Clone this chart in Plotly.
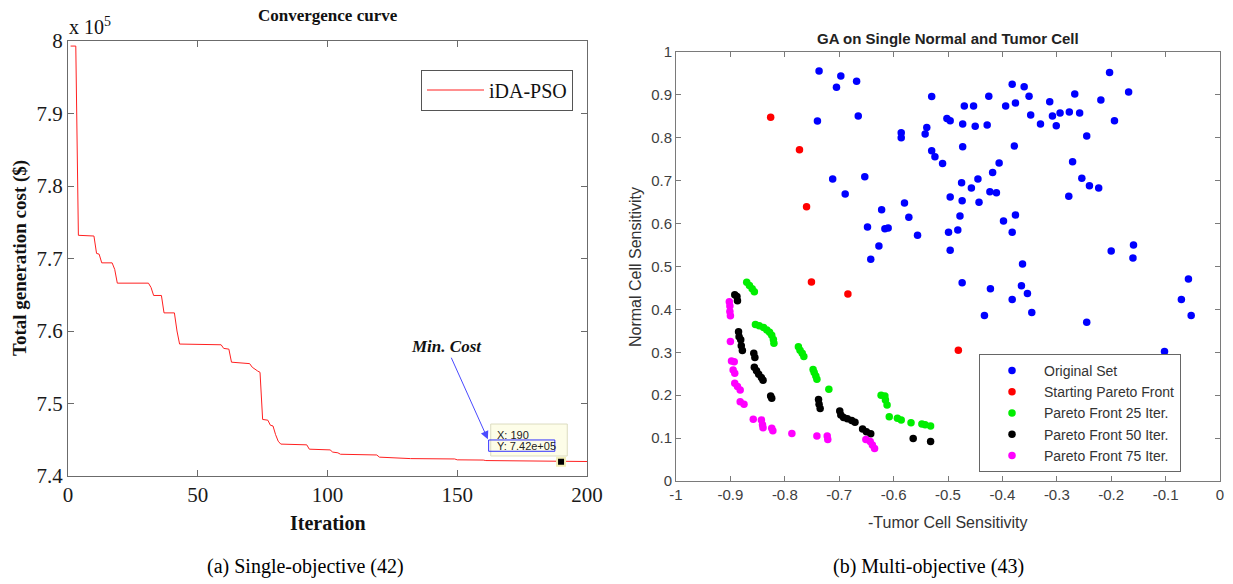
import plotly.graph_objects as go

# ---------------- Data: (a) convergence curve ----------------
iterations = [1, 3, 4, 10, 11, 12, 13, 17, 18, 19, 31, 32, 33, 36, 37, 41, 42, 43,
              59, 60, 62, 63, 70, 71, 73, 74, 75, 77, 78, 79, 80, 81, 82, 92, 93,
              101, 102, 104, 105, 119, 120, 131, 132, 149, 150, 160, 161, 200]
cost_usd = [799300, 799300, 773200, 773100, 770700, 770600, 769400, 769400, 768500,
            766600, 766600, 766000, 764900, 764900, 762500, 762500, 760000, 758200,
            758100, 757600, 757500, 755700, 755500, 755000, 754500, 754300, 747800,
            747700, 747000, 746900, 745700, 744800, 744400, 744300, 743700,
            743600, 743300, 743200, 743000, 742900, 742600, 742500, 742400,
            742350, 742230, 742200, 742130, 742000]
tip_iter = [190]
tip_cost = [741960]
x_ticks_a = [0, 50, 100, 150, 200]
y_ticks_a = [7.4, 7.5, 7.6, 7.7, 7.8, 7.9, 8.0]
y_ticklabels_a = ["7.4", "7.5", "7.6", "7.7", "7.8", "7.9", "8"]

# ---------------- Data: (b) GA scatter ----------------
orig_x = [-0.737, -0.697, -0.705, -0.668, -0.740, -0.665, -0.712, -0.653, -0.689, -0.622,
          -0.648, -0.616, -0.610, -0.627, -0.642, -0.586, -0.586, -0.580, -0.572, -0.556,
          -0.530, -0.470, -0.453, -0.425, -0.382, -0.360, -0.351, -0.394, -0.376, -0.313,
          -0.267, -0.219, -0.203, -0.168, -0.502, -0.496, -0.473, -0.450, -0.428, -0.348,
          -0.330, -0.308, -0.301, -0.294, -0.277, -0.258, -0.194, -0.539, -0.542, -0.473,
          -0.378, -0.245, -0.530, -0.524, -0.510, -0.406, -0.418, -0.445, -0.475, -0.457,
          -0.423, -0.411, -0.271, -0.254, -0.240, -0.223, -0.278, -0.496, -0.474, -0.443,
          -0.478, -0.376, -0.398, -0.482, -0.499, -0.382, -0.496, -0.200, -0.159, -0.160,
          -0.363, -0.474, -0.422, -0.365, -0.354, -0.382, -0.058, -0.071, -0.433, -0.346,
          -0.245, -0.053, -0.102]
orig_y = [0.956, 0.944, 0.918, 0.932, 0.839, 0.851, 0.704, 0.709, 0.669, 0.632,
          0.592, 0.588, 0.590, 0.548, 0.517, 0.812, 0.800, 0.648, 0.615, 0.573,
          0.896, 0.874, 0.874, 0.897, 0.925, 0.919, 0.897, 0.874, 0.881, 0.884,
          0.902, 0.888, 0.952, 0.907, 0.845, 0.840, 0.832, 0.827, 0.830, 0.853,
          0.832, 0.851, 0.828, 0.858, 0.860, 0.858, 0.840, 0.824, 0.809, 0.779,
          0.781, 0.804, 0.770, 0.756, 0.740, 0.741, 0.719, 0.704, 0.695, 0.683,
          0.674, 0.672, 0.744, 0.706, 0.688, 0.683, 0.664, 0.662, 0.653, 0.650,
          0.618, 0.620, 0.606, 0.585, 0.580, 0.580, 0.538, 0.536, 0.550, 0.520,
          0.506, 0.462, 0.448, 0.455, 0.437, 0.423, 0.471, 0.423, 0.386, 0.393,
          0.370, 0.386, 0.302]

start_x = [-0.826, -0.773, -0.760, -0.751, -0.684, -0.481]
start_y = [0.848, 0.772, 0.639, 0.464, 0.436, 0.305]

p25_x = [-0.870, -0.865, -0.860, -0.856, -0.854, -0.847, -0.839, -0.833, -0.828, -0.824,
         -0.821, -0.820, -0.775, -0.772, -0.768, -0.765, -0.748, -0.746, -0.743, -0.741,
         -0.719, -0.623, -0.616, -0.615, -0.612, -0.608, -0.593, -0.586, -0.568, -0.548,
         -0.542, -0.532]
p25_y = [0.463, 0.456, 0.448, 0.441, 0.365, 0.362, 0.358, 0.352, 0.347, 0.340,
         0.330, 0.321, 0.313, 0.305, 0.298, 0.290, 0.260, 0.253, 0.245, 0.237,
         0.214, 0.200, 0.198, 0.189, 0.177, 0.150, 0.146, 0.142, 0.136, 0.133,
         0.131, 0.128]

p50_x = [-0.892, -0.888, -0.887, -0.885, -0.884, -0.881, -0.880, -0.878, -0.857, -0.855,
         -0.856, -0.852, -0.848, -0.843, -0.840, -0.826, -0.824, -0.738, -0.737, -0.735,
         -0.699, -0.697, -0.692, -0.685, -0.677, -0.671, -0.657, -0.650, -0.642, -0.564,
         -0.532]
p50_y = [0.434, 0.430, 0.420, 0.348, 0.336, 0.329, 0.315, 0.304, 0.298, 0.288,
         0.265, 0.257, 0.249, 0.241, 0.235, 0.198, 0.193, 0.190, 0.179, 0.169,
         0.163, 0.154, 0.148, 0.145, 0.141, 0.137, 0.121, 0.115, 0.110, 0.099,
         0.092]

p75_x = [-0.902, -0.901, -0.901, -0.900, -0.900, -0.898, -0.893, -0.895, -0.892, -0.892,
         -0.887, -0.882, -0.882, -0.875, -0.858, -0.843, -0.841, -0.840, -0.824, -0.822,
         -0.787, -0.741, -0.722, -0.721, -0.651, -0.643, -0.639, -0.635]
p75_y = [0.418, 0.408, 0.395, 0.385, 0.325, 0.280, 0.278, 0.259, 0.251, 0.228,
         0.220, 0.212, 0.185, 0.179, 0.144, 0.142, 0.131, 0.124, 0.123, 0.117,
         0.111, 0.105, 0.105, 0.097, 0.097, 0.092, 0.084, 0.076]

x_ticks_b = [-1, -0.9, -0.8, -0.7, -0.6, -0.5, -0.4, -0.3, -0.2, -0.1, 0]
x_ticklabels_b = ["-1", "-0.9", "-0.8", "-0.7", "-0.6", "-0.5", "-0.4", "-0.3", "-0.2", "-0.1", "0"]
y_ticks_b = [0, 0.1, 0.2, 0.3, 0.4, 0.5, 0.6, 0.7, 0.8, 0.9, 1]
y_ticklabels_b = ["0", "0.1", "0.2", "0.3", "0.4", "0.5", "0.6", "0.7", "0.8", "0.9", "1"]

# ---------------- Figure ----------------
W, H = 1233, 584
SERIF = "Liberation Serif"
SANS = "Liberation Sans"

def px(x):
    return x / W

def py(y):
    return 1 - y / H

fig = go.Figure()

fig.add_trace(go.Scatter(
    x=iterations, y=[c / 1e5 for c in cost_usd], mode="lines",
    line=dict(color="#ff2020", width=1), name="iDA-PSO",
    xaxis="x", yaxis="y", legend="legend"))
fig.add_trace(go.Scatter(
    x=tip_iter, y=[c / 1e5 for c in tip_cost], mode="markers",
    marker=dict(symbol="square", size=8, color="black",
                line=dict(color="#f3f0b8", width=2)),
    showlegend=False, xaxis="x", yaxis="y"))

series = [
    (orig_x, orig_y, "#0000ff", "Original Set"),
    (start_x, start_y, "#ff0000", "Starting Pareto Front"),
    (p25_x, p25_y, "#00ee00", "Pareto Front 25 Iter."),
    (p50_x, p50_y, "#000000", "Pareto Front 50 Iter."),
    (p75_x, p75_y, "#ff00ff", "Pareto Front 75 Iter."),
]
for xs, ys, col, nm in series:
    fig.add_trace(go.Scatter(
        x=xs, y=ys, mode="markers", name=nm,
        marker=dict(color=col, size=7.5, line=dict(width=0)),
        xaxis="x2", yaxis="y2", legend="legend2"))

axis_a = dict(showline=True, linecolor="#6b6b6b", linewidth=1, mirror="ticks",
              ticks="inside", ticklen=6, tickcolor="#6b6b6b", showgrid=False,
              zeroline=False, automargin=False,
              tickfont=dict(family=SERIF, size=21, color="#1a1a1a"))
axis_b = dict(showline=True, linecolor="#7a7a7a", linewidth=1, mirror="ticks",
              ticks="inside", ticklen=5, tickcolor="#7a7a7a", showgrid=False,
              zeroline=False, automargin=False,
              tickfont=dict(family=SANS, size=15, color="#404040"))

fig.update_layout(
    width=W, height=H, margin=dict(l=0, r=0, t=0, b=0, autoexpand=False),
    paper_bgcolor="white", plot_bgcolor="white",
    xaxis=dict(domain=[px(68), px(587)], range=[0, 200], anchor="y",
               tickvals=x_ticks_a, **axis_a),
    yaxis=dict(domain=[py(476), py(41)], range=[7.4, 8.0], anchor="x",
               tickvals=y_ticks_a, ticktext=y_ticklabels_a, **axis_a),
    xaxis2=dict(domain=[px(676), px(1220)], range=[-1, 0], anchor="y2",
                tickvals=x_ticks_b, ticktext=x_ticklabels_b, **axis_b),
    yaxis2=dict(domain=[py(481), py(52)], range=[0, 1], anchor="x2",
                tickvals=y_ticks_b, ticktext=y_ticklabels_b, **axis_b),
    legend=dict(x=px(421), y=py(69.5), xanchor="left", yanchor="top",
                bgcolor="white", bordercolor="#555555", borderwidth=1,
                font=dict(family=SERIF, size=20, color="#111111"),
                itemwidth=57),
    legend2=dict(x=px(979), y=py(354), xanchor="left", yanchor="top",
                 bgcolor="white", bordercolor="#666666", borderwidth=1,
                 font=dict(family=SANS, size=14, color="#333333"),
                 tracegroupgap=0, itemsizing="trace", itemwidth=54),
    showlegend=True,
)

ann = []
def text(x, y, s, size, family, color="#111111", angle=0, xanchor="center", yanchor="middle"):
    ann.append(dict(x=px(x), y=py(y), xref="paper", yref="paper", text=s,
                    showarrow=False, textangle=angle, xanchor=xanchor, yanchor=yanchor,
                    font=dict(size=size, family=family, color=color)))

# (a) texts
text(328, 15, "<b>Convergence curve</b>", 17, SERIF)
text(67, 26, "x 10<sup>5</sup>", 20, SERIF, xanchor="left")
text(20, 258, "<b>Total generation cost ($)</b>", 19, SERIF, angle=-90)
text(328, 523, "<b>Iteration</b>", 20, SERIF)
text(305, 566, "(a) Single-objective (42)", 20, SERIF, color="#000000")
# (b) texts
text(948, 38, "<b>GA on Single Normal and Tumor Cell</b>", 15, SANS, color="#222222")
text(635, 267, "Normal Cell Sensitivity", 16, SANS, color="#333333", angle=-90)
text(948, 522, "-Tumor Cell Sensitivity", 16, SANS, color="#333333")
text(928, 566, "(b) Multi-objective (43)", 20, SERIF, color="#000000")

# Min. Cost arrow annotation
ann.append(dict(x=161.8, y=7.4507, xref="x", yref="y", ax=145.8, ay=7.5783,
                axref="x", ayref="y", text="<b><i>Min. Cost</i></b>", showarrow=True,
                arrowhead=2, arrowsize=1.6, arrowwidth=1, arrowcolor="#4a4aff",
                font=dict(family=SERIF, size=17, color="#111111")))
# datatip text
ann.append(dict(x=164.5, y=7.4566, xref="x", yref="y", text="X: 190", showarrow=False,
                xanchor="left", yanchor="middle",
                font=dict(family=SANS, size=11, color="#222222")))
ann.append(dict(x=164.5, y=7.4419, xref="x", yref="y", text="Y: 7.42e+05", showarrow=False,
                xanchor="left", yanchor="middle",
                font=dict(family=SANS, size=11, color="#222222")))
fig.update_layout(annotations=ann)

fig.update_layout(shapes=[
    dict(type="rect", xref="x", yref="y", x0=162.9, x1=192.4, y0=7.4276, y1=7.4717,
         fillcolor="#fdfde8", line=dict(color="#dcdcc0", width=1), layer="above"),
    dict(type="rect", xref="x", yref="y", x0=162.1, x1=187.6, y0=7.4341, y1=7.4497,
         fillcolor="rgba(0,0,0,0)", line=dict(color="#3030ff", width=1), layer="above"),
])

fig.write_html("out.html")
